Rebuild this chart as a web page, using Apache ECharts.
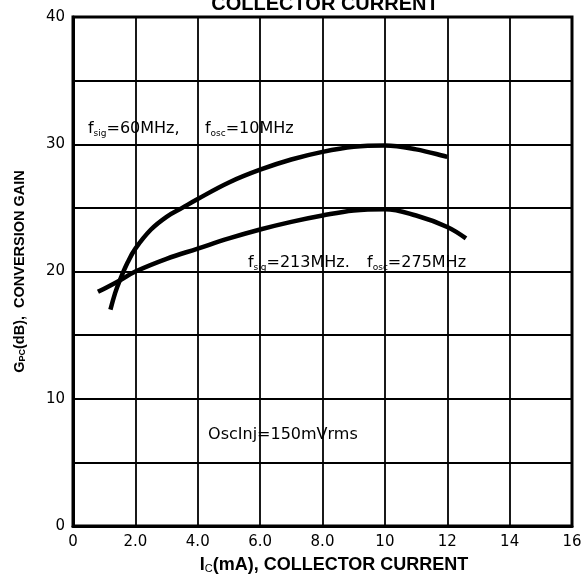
<!DOCTYPE html>
<html>
<head>
<meta charset="utf-8">
<script src="https://cdn.jsdelivr.net/npm/echarts@6/dist/echarts.min.js"></script>
<style>
html,body{margin:0;padding:0;background:#fff;}
#c{width:583px;height:574px;}
</style>
</head>
<body>
<div id="c"></div>
<script>
var xTickLabels = ['0','2.0','4.0','6.0','8.0','10','12','14','16'];
var yTickLabels = ['0','10','20','30','40'];

var x60 = [1.2, 1.35, 1.5, 1.75, 2.0, 2.5, 3.0, 3.5, 4.0, 5.0, 6.0, 7.0, 8.0, 9.0, 10.0, 11.0, 12.0];
var y60 = [17.0, 18.3, 19.3, 20.7, 21.8, 23.3, 24.3, 25.0, 25.7, 27.0, 28.0, 28.8, 29.4, 29.8, 29.9, 29.6, 29.0];

var x213 = [0.8, 1.5, 2.0, 3.0, 4.0, 5.0, 6.0, 7.0, 8.0, 9.0, 10.0, 11.0, 12.0, 12.6];
var y213 = [18.4, 19.3, 20.0, 21.0, 21.8, 22.6, 23.3, 23.9, 24.4, 24.8, 24.9, 24.4, 23.5, 22.6];

var FONT = '"Liberation Sans", Arial, Helvetica, sans-serif';
var TFONT = '"DejaVu Sans", sans-serif';

function pairs(xs, ys){ return xs.map(function(x,i){ return [x, ys[i]]; }); }

var chart = echarts.init(document.getElementById('c'), null, {renderer:'canvas'});

var option = {
  animation: false,
  backgroundColor: '#fff',
  title: {
    text: 'COLLECTOR CURRENT',
    left: 320, top: -11, textAlign: 'center',
    textStyle: {fontFamily: FONT, fontWeight: 'bold', fontSize: 20, color: '#000', lineHeight: 20}
  },
  grid: {left: 73, right: 11, top: 17, bottom: 48, show: true, borderColor: '#000', borderWidth: 3,
         outerBoundsMode: 'none', containLabel: false},
  xAxis: {
    type: 'value', min: 0, max: 16, interval: 2,
    name: 'I{sub|C}(mA), COLLECTOR CURRENT',
    nameLocation: 'middle', nameGap: 30,
    nameTextStyle: {fontFamily: FONT, fontWeight: 'bold', fontSize: 18, color: '#000', padding:[0,0,0,23], lineHeight: 18,
      rich: {sub: {fontFamily: FONT, fontWeight:'normal', fontSize: 11, color:'#000', verticalAlign:'bottom', lineHeight: 11}}},
    axisLine: {show: true, lineStyle: {color: '#000', width: 3}},
    axisTick: {show: false},
    splitLine: {show: true, lineStyle: {color: '#000', width: 1.8}},
    axisLabel: {
      fontFamily: TFONT, fontSize: 15, color: '#000', margin: 9,
      formatter: function(v){ return xTickLabels[Math.round(v/2)]; }
    }
  },
  yAxis: {
    type: 'value', min: 0, max: 40, interval: 5,
    name: 'G{sub|PC}(dB),  CONVERSION GAIN',
    nameLocation: 'middle', nameGap: 46, nameRotate: 90,
    nameTextStyle: {fontFamily: FONT, fontWeight: 'bold', fontSize: 14.5, color: '#000',
      rich: {sub: {fontFamily: FONT, fontWeight:'bold', fontSize: 9, color:'#000', verticalAlign:'bottom', lineHeight: 9}}},
    axisLine: {show: true, lineStyle: {color: '#000', width: 3}},
    axisTick: {show: false},
    splitLine: {show: true, lineStyle: {color: '#000', width: 1.8}},
    axisLabel: {
      fontFamily: TFONT, fontSize: 15, color: '#000', margin: 8,
      formatter: function(v){ return (v % 10 === 0) ? yTickLabels[v/10] : ''; }
    }
  },
  series: [
    {type: 'line', data: pairs(x60, y60), smooth: 0.4, showSymbol: false, symbol: 'none',
     lineStyle: {color: '#000', width: 4.5}, z: 5},
    {type: 'line', data: pairs(x213, y213), smooth: 0.4, showSymbol: false, symbol: 'none',
     lineStyle: {color: '#000', width: 4.5}, z: 5}
  ]
};
chart.setOption(option);

var rich = {
  m: {fontFamily: TFONT, fontSize: 16, color: '#000', lineHeight: 18},
  s: {fontFamily: TFONT, fontSize: 9, color: '#000', verticalAlign: 'bottom', lineHeight: 9}
};
function label(x, y, text){
  var p = chart.convertToPixel({gridIndex: 0}, [x, y]);
  return {type: 'text', x: p[0], y: p[1], z: 10,
    style: {text: text, rich: rich, verticalAlign: 'middle', align: 'left'}};
}
chart.setOption({graphic: [
  label(0.48, 31.2, '{m|f}{s|sig}{m|=60MHz,}'),
  label(4.23, 31.2, '{m|f}{s|osc}{m|=10MHz}'),
  label(5.61, 20.65, '{m|f}{s|sig}{m|=213MHz.}'),
  label(9.43, 20.65, '{m|f}{s|osc}{m|=275MHz}'),
  label(4.33, 7.2, '{m|OscInj=150mVrms}')
]});
</script>
</body>
</html>
